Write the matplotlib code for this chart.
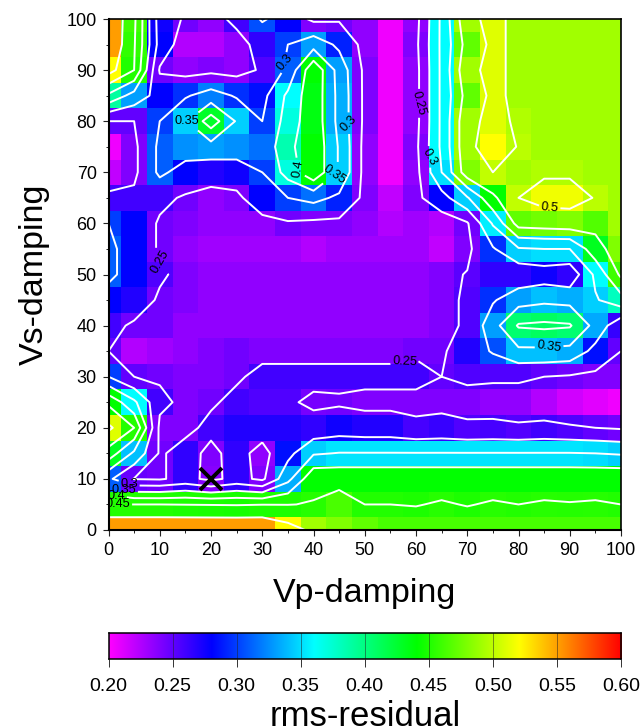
import numpy as np
import matplotlib
matplotlib.use("Agg")
import matplotlib.pyplot as plt
from matplotlib.colors import LinearSegmentedColormap, Normalize
from matplotlib.ticker import MultipleLocator

plt.rcParams['font.family'] = ['Liberation Sans', 'DejaVu Sans']

vp = list(range(0, 101, 5))
vs = list(range(100, -1, -5))

y100 = [.55,.46,.275,.245,.235,.26,.305,.28,.24,.245,.235,.205,.235,.36,.49,.51,.49,.49,.49,.49,.49]
y95  = [.55,.455,.28,.225,.225,.235,.265,.30,.33,.29,.235,.205,.24,.36,.47,.51,.49,.49,.49,.49,.49]
y90  = [.52,.45,.245,.235,.24,.235,.255,.31,.44,.33,.24,.205,.235,.36,.49,.51,.49,.49,.49,.49,.49]
y85  = [.39,.33,.28,.295,.32,.295,.285,.36,.435,.335,.24,.205,.235,.36,.47,.51,.49,.49,.49,.49,.49]
y80  = [.25,.25,.30,.345,.427,.345,.30,.37,.435,.335,.24,.205,.235,.36,.49,.51,.495,.49,.49,.49,.49]
y75  = [.205,.24,.31,.325,.33,.325,.315,.385,.44,.345,.235,.205,.24,.36,.49,.52,.498,.49,.49,.49,.49]
y70  = [.22,.24,.31,.28,.27,.275,.30,.37,.44,.345,.235,.205,.235,.35,.48,.50,.49,.495,.495,.49,.49]
y65  = [.26,.26,.26,.245,.235,.24,.28,.30,.315,.29,.24,.22,.24,.28,.345,.44,.50,.515,.515,.498,.49]
y60  = [.30,.28,.245,.24,.235,.235,.235,.245,.24,.24,.235,.225,.23,.225,.245,.355,.47,.475,.48,.465,.49]
y55  = [.31,.28,.245,.235,.23,.23,.23,.23,.225,.23,.23,.23,.23,.22,.24,.295,.345,.35,.35,.43,.48]
y50  = [.31,.28,.255,.24,.235,.235,.235,.235,.235,.235,.235,.235,.235,.24,.252,.265,.265,.275,.265,.36,.46]
y45  = [.28,.27,.245,.24,.235,.235,.235,.235,.235,.235,.235,.235,.235,.24,.255,.295,.33,.34,.335,.345,.38]
y40  = [.26,.245,.245,.235,.235,.235,.235,.235,.235,.235,.235,.235,.235,.24,.255,.33,.405,.41,.405,.333,.264]
y35  = [.25,.225,.23,.235,.24,.245,.24,.24,.24,.24,.24,.24,.245,.245,.27,.305,.34,.34,.335,.285,.25]
y30  = [.30,.25,.245,.24,.24,.245,.26,.26,.26,.26,.26,.26,.26,.25,.255,.255,.255,.25,.245,.24,.24]
y25  = [.44,.36,.26,.24,.245,.26,.255,.255,.243,.245,.24,.24,.24,.24,.24,.235,.235,.225,.215,.21,.205]
y20  = [.51,.45,.24,.24,.26,.27,.27,.27,.265,.275,.27,.27,.258,.263,.255,.258,.254,.26,.255,.25,.245]
y15  = [.43,.34,.245,.265,.24,.265,.235,.285,.345,.352,.352,.352,.352,.352,.352,.352,.352,.352,.352,.35,.345]
y10  = [.31,.248,.245,.265,.238,.265,.24,.335,.44,.44,.44,.44,.44,.44,.44,.44,.44,.44,.44,.44,.44]
y5   = [.45,.45,.45,.449,.448,.447,.449,.449,.452,.463,.45,.45,.449,.452,.449,.452,.45,.452,.451,.452,.45]
y0   = [.55,.55,.55,.55,.55,.55,.55,.52,.49,.48,.47,.462,.462,.462,.462,.462,.462,.462,.462,.462,.462]

rows = [y100,y95,y90,y85,y80,y75,y70,y65,y60,y55,y50,y45,y40,y35,y30,y25,y20,y15,y10,y5,y0]
best_vp, best_vs = [20], [10]
levels = [0.25, 0.30, 0.35, 0.40, 0.45, 0.50]
cbar_ticks = [0.20, 0.25, 0.30, 0.35, 0.40, 0.45, 0.50, 0.55, 0.60]

label_spots = {
    0.25: [(8.6, 52), (60, 83.5), (58, 31.7)],
    0.30: [(34, 91.5), (46.7, 79.6), (62.3, 73), (4, 9)],
    0.35: [(14, 79.5), (43.6, 70.2), (86, 35.4), (3, 8)],
    0.40: [(38.5, 71), (1.5, 6.8)],
    0.45: [(1.8, 5)],
    0.50: [(86, 62)],
}
label_angles = {
    0.25: [60, -75, -3],
    0.30: [50, 45, -60, 0],
    0.35: [0, -35, -8, 0],
    0.40: [80, 0],
    0.45: [0],
    0.50: [-5],
}

Z = np.array(rows)
cmap = LinearSegmentedColormap.from_list("rms", [
    (0.0, "#ff00ff"), (0.2, "#0000ff"), (0.4, "#00ffff"),
    (0.6, "#00ff00"), (0.8, "#ffff00"), (1.0, "#ff0000")], N=512)
norm = Normalize(0.20, 0.60)

W, H = 642, 726
fig = plt.figure(figsize=(W/100, H/100), dpi=100)
ax = fig.add_axes([108.5/W, 1-530/H, 512.5/W, 511/H])
ax.pcolormesh(vp, vs, Z, cmap=cmap, norm=norm, shading='nearest', rasterized=True)
ax.set_xlim(0, 100); ax.set_ylim(0, 100)
for lev in levels:
    cs = ax.contour(vp, vs, Z, levels=[lev], colors='white', linewidths=1.4)
    ax.clabel(cs, manual=label_spots[lev], inline=True, fontsize=9.2, colors='black',
              fmt=lambda v: f"{v:g}", inline_spacing=2)
    for txt, ang in zip(cs.labelTexts, label_angles[lev]):
        txt.set_rotation(ang)
ax.plot(best_vp, best_vs, marker='x', ms=16, mew=2.8, color='black', ls='none', clip_on=False, zorder=6)
ax.set_xlim(0, 100); ax.set_ylim(0, 100)
for a in (ax.xaxis, ax.yaxis):
    a.set_major_locator(MultipleLocator(10))
    a.set_minor_locator(MultipleLocator(5))
ax.tick_params(which='major', length=4.5, width=0.8, labelsize=13, pad=4, color='#222222')
ax.tick_params(which='minor', length=2.5, width=0.7, color='#222222')
for s in ax.spines.values():
    s.set_linewidth(1.2)
ax.spines['left'].set_linewidth(1.5); ax.spines['bottom'].set_linewidth(1.5)
ax.set_xlabel("Vp-damping", fontsize=24.5, labelpad=14)
ax.set_ylabel("Vs-damping", fontsize=24.5, labelpad=12)

cax = fig.add_axes([108.5/W, 1-659/H, 512.5/W, 26/H])
grad = np.linspace(0.20, 0.60, 512).reshape(1, -1)
cax.imshow(grad, aspect='auto', cmap=cmap, norm=norm, extent=[0.20, 0.60, 0, 1])
cax.set_yticks([])
cax.set_xticks(cbar_ticks)
cax.set_xticklabels([f"{t:.2f}" for t in cbar_ticks])
cax.tick_params(axis='x', length=6, width=0.7, labelsize=14, pad=8, color='#333333')
for t in cbar_ticks[1:-1]:
    cax.axvline(t, color='#222222', lw=0.5, alpha=0.7)
for s in cax.spines.values():
    s.set_linewidth(1.1)
cax.set_xlabel("rms-residual", fontsize=25, labelpad=3)

fig.savefig("out.png", dpi=100)
